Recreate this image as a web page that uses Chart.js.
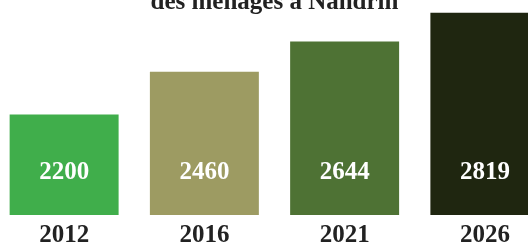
<!DOCTYPE html>
<html>
<head>
<meta charset="utf-8">
<script src="https://cdn.jsdelivr.net/npm/chart.js@4"></script>
<style>
  html, body { margin:0; padding:0; background:#fff; overflow:hidden; width:528px; height:243px; }
  #graph { position:absolute; left:-6px; top:-35px; }
</style>
</head>
<body>
<canvas id="graph" width="561" height="292"></canvas>
<script>
// données
const annees = ["2012", "2016", "2021", "2026"];
const menages = [2200, 2460, 2644, 2819];
const couleurs = ["#40ae4b", "#9d9b62", "#4e7234", "#1f2610"];
const titre = ["Évolution du nombre", "des ménages à Nandrin"];

// valeurs écrites dans les barres
const valeursPlugin = {
    id: "valeurs",
    afterDatasetsDraw(chart) {
        const ctx = chart.ctx;
        const meta = chart.getDatasetMeta(0);
        ctx.save();
        ctx.fillStyle = "#ffffff";
        ctx.font = "bold 25px 'Liberation Serif'";
        ctx.textAlign = "center";
        ctx.textBaseline = "middle";
        meta.data.forEach(function(bar, i){
            ctx.fillText(String(menages[i]), bar.x, chart.chartArea.bottom - 42);
        });
        ctx.restore();
    }
};

const graph = document.getElementById("graph").getContext("2d");
new Chart(graph, {
    type: "bar",
    data: {
        labels: annees,
        datasets: [{
            data: menages,
            backgroundColor: couleurs,
            borderWidth: 0,
            barPercentage: 0.777,
            categoryPercentage: 1,
            clip: { left: false, right: false, top: false, bottom: 0 }
        }]
    },
    options: {
        responsive: false,
        animation: false,
        devicePixelRatio: 1,
        layout: { padding: 0 },
        plugins: {
            legend: { display: false },
            tooltip: { enabled: false },
            title: {
                display: true,
                text: titre,
                color: "#222222",
                font: { family: "'Liberation Serif'", size: 25, weight: "bold", lineHeight: 1.0 },
                padding: { top: 0, bottom: 0 }
            }
        },
        scales: {
            y: {
                display: false,
                min: 1590,
                max: 2805
            },
            x: {
                grid: { display: false, drawTicks: false },
                border: { display: false },
                ticks: {
                    color: "#222222",
                    padding: 6,
                    font: { family: "'Liberation Serif'", size: 25, weight: "bold" }
                }
            }
        }
    },
    plugins: [valeursPlugin]
});
</script>
</body>
</html>
